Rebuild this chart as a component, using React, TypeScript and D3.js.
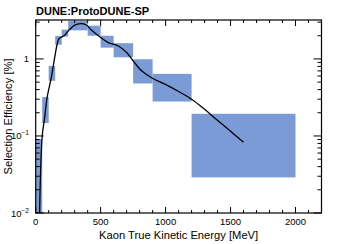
import * as d3 from "d3";

const W = 357;
const H = 244;
const LEFT = 35.7;
const RIGHT = 321.5;
const TOP = 20;
const BOTTOM = 213;

// systematic band, per energy bin [MeV] and efficiency [%]
const binLo = [0, 50, 100, 150, 200, 250, 400, 500, 600, 750, 900, 1200];
const binHi = [50, 100, 150, 200, 250, 400, 500, 600, 750, 900, 1200, 2000];
const bandLow = [0.005, 0.147, 0.52, 1.53, 1.95, 2.35, 2.0, 1.4, 1.05, 0.48, 0.28, 0.029];
const bandHigh = [0.091, 0.32, 0.81, 1.99, 2.4, 3.1, 2.7, 2.0, 1.6, 0.99, 0.64, 0.194];

// smoothed efficiency curve
const curveE = [30, 50, 69, 87, 120, 146, 165, 180, 200, 225, 260, 300, 345, 390, 431, 495, 559, 636, 700, 751, 815, 892, 995, 1097, 1200, 1289, 1392, 1500, 1600];
const curveEff = [0.01, 0.1, 0.173, 0.31, 0.57, 1.04, 1.55, 1.85, 1.92, 2.05, 2.4, 2.75, 2.88, 2.76, 2.35, 1.93, 1.63, 1.47, 1.21, 0.94, 0.7, 0.57, 0.47, 0.38, 0.3, 0.23, 0.163, 0.115, 0.083];

const xMajor = [0, 500, 1000, 1500, 2000];
const yMajor = [0.01, 0.1, 1];

const FONT = "'Liberation Sans', Arial, Helvetica, sans-serif";
const BAND = "#7a9bd6";

export default function App() {
  const x = d3.scaleLinear().domain([0, 2200]).range([LEFT, RIGHT]);
  const y = d3.scaleLog().domain([0.01, 3.2]).range([BOTTOM, TOP]);

  const line = d3
    .line<number>()
    .x((_, i) => x(curveE[i]))
    .y((v) => y(v))
    .curve(d3.curveCatmullRom);
  const path = line(curveEff) ?? "";

  const xTicks = x.ticks(22);
  const yTicks = y.ticks().filter((t) => t >= 0.01 && t <= 3.2);
  const isMajorY = (t: number) => Math.abs(Math.log10(t) - Math.round(Math.log10(t))) < 1e-6;

  return (
    <svg width={W} height={H} style={{ position: "absolute", left: 0, top: 0, background: "#fff" }} fontFamily={FONT}>
      <defs>
        <clipPath id="frame">
          <rect x={LEFT} y={TOP} width={RIGHT - LEFT} height={BOTTOM - TOP} />
        </clipPath>
      </defs>

      <g clipPath="url(#frame)">
        {binLo.map((lo, i) => (
          <rect
            key={i}
            x={x(lo)}
            y={y(bandHigh[i])}
            width={x(binHi[i]) - x(lo)}
            height={y(bandLow[i]) - y(bandHigh[i])}
            fill={BAND}
          />
        ))}
        <path d={path} fill="none" stroke="#000" strokeWidth={1.3} />
      </g>

      {/* x ticks, bottom and top */}
      {xTicks.map((t) => {
        const len = t % 500 === 0 ? 6 : 3;
        return (
          <g key={t} stroke="#000" strokeWidth={1}>
            <line x1={x(t)} x2={x(t)} y1={BOTTOM} y2={BOTTOM - len} />
            <line x1={x(t)} x2={x(t)} y1={TOP} y2={TOP + len} />
          </g>
        );
      })}
      {/* y ticks, left and right */}
      {yTicks.map((t) => {
        const len = isMajorY(t) ? 8 : 4;
        return (
          <g key={t} stroke="#000" strokeWidth={1}>
            <line x1={LEFT} x2={LEFT + len} y1={y(t)} y2={y(t)} />
            <line x1={RIGHT} x2={RIGHT - len} y1={y(t)} y2={y(t)} />
          </g>
        );
      })}

      <rect x={LEFT} y={TOP} width={RIGHT - LEFT} height={BOTTOM - TOP} fill="none" stroke="#000" strokeWidth={1.2} />

      {xMajor.map((t) => (
        <text key={t} x={x(t)} y={225} fontSize={9.5} textAnchor="middle" fill="#000">
          {t}
        </text>
      ))}
      {yMajor.map((t) => (
        <text key={t} x={29} y={y(t) + 3.5} fontSize={9.5} textAnchor="end" fill="#000">
          {t === 1 ? (
            "1"
          ) : (
            <>
              10
              <tspan fontSize={6.5} dy={-4}>
                {"\u2212" + Math.round(-Math.log10(t))}
              </tspan>
            </>
          )}
        </text>
      ))}

      <text x={(LEFT + RIGHT) / 2} y={239} fontSize={11.2} textAnchor="middle" fill="#000">
        Kaon True Kinetic Energy [MeV]
      </text>
      <text
        transform={`translate(11.5,${(TOP + BOTTOM) / 2}) rotate(-90)`}
        fontSize={11.2}
        textAnchor="middle"
        fill="#000"
      >
        Selection Efficiency [%]
      </text>
      <text x={36} y={14.7} fontSize={11} fontWeight="bold" fill="#000">
        DUNE:ProtoDUNE-SP
      </text>
    </svg>
  );
}
